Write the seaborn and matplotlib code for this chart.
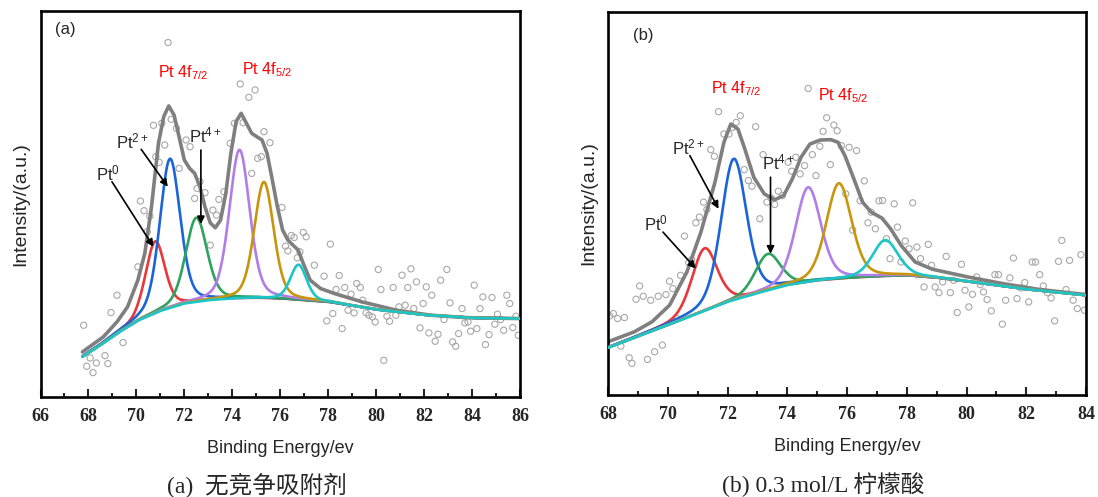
import numpy as np
import matplotlib
matplotlib.use("Agg")
import matplotlib.pyplot as plt
import seaborn as sns

sns.set_style("white")
plt.rcParams['font.family'] = ['Liberation Sans', 'Noto Sans CJK SC', 'DejaVu Sans']
plt.rcParams['mathtext.fontset'] = 'custom'
plt.rcParams['mathtext.rm'] = 'Liberation Sans'
plt.rcParams['mathtext.it'] = 'Liberation Sans:italic'
plt.rcParams['mathtext.bf'] = 'Liberation Sans:bold'

# ---------------- Panel (a) data ----------------
a_scatter_E = [67.80, 67.93, 68.07, 68.19, 68.33, 68.69, 68.81, 68.94, 69.19, 69.44,
               70.06, 70.17, 70.32, 70.45, 70.56, 70.71, 70.81, 70.95, 71.06, 71.18,
               71.32, 71.45, 71.67, 71.78, 72.07, 72.24, 72.43, 72.53, 72.65, 72.86,
               73.08, 73.19, 73.34, 73.44, 73.65, 73.91, 74.09, 74.33, 74.45, 74.69,
               74.81, 74.95, 75.06, 75.21, 75.32, 75.57, 76.07, 76.22, 76.32, 76.46,
               76.58, 76.71, 76.82, 76.96, 77.08, 77.42, 77.83, 77.94, 78.09, 78.19,
               78.33, 78.46, 78.58, 78.69, 78.83, 78.95, 79.08, 79.19, 79.34, 79.44,
               79.58, 79.70, 79.84, 79.96, 80.09, 80.20, 80.32, 80.45, 80.56, 80.71,
               80.82, 80.95, 81.08, 81.21, 81.32, 81.45, 81.57, 81.68, 81.83, 81.96,
               82.09, 82.20, 82.32, 82.46, 82.58, 82.69, 82.83, 82.95, 83.08, 83.19,
               83.32, 83.44, 83.58, 83.70, 83.83, 83.94, 84.09, 84.20, 84.33, 84.45,
               84.56, 84.71, 84.83, 84.95, 85.06, 85.19, 85.32, 85.45, 85.57, 85.70,
               85.83, 85.93]
a_scatter_I = [21.5, 9.2, 11.7, 7.3, 10.2, 12.4, 10.0, 25.3, 30.5, 16.3,
               39.0, 58.7, 55.8, 49.5, 54.2, 81.4, 72.0, 70.3, 82.0, 75.5,
               106.2, 83.2, 80.5, 68.5, 77.0, 75.0, 59.5, 62.5, 64.5, 61.2,
               45.5, 56.0, 54.5, 59.2, 61.5, 76.0, 82.0, 93.8, 82.2, 89.8,
               67.0, 92.0, 71.5, 72.0, 79.5, 76.2, 56.8, 45.2, 43.8, 48.4,
               47.8, 41.7, 43.5, 49.3, 48.0, 39.5, 36.2, 22.8, 45.8, 25.0,
               32.2, 36.4, 20.5, 32.8, 26.0, 30.8, 25.2, 34.0, 32.8, 29.0,
               25.2, 24.5, 24.0, 22.5, 38.2, 32.2, 11.0, 24.2, 22.7, 32.8,
               24.5, 27.0, 36.5, 27.5, 32.8, 38.4, 26.5, 34.5, 20.7, 28.0,
               33.0, 19.2, 30.5, 16.7, 18.8, 35.0, 23.2, 38.2, 28.2, 16.5,
               15.2, 19.0, 26.5, 22.2, 22.5, 19.7, 33.5, 20.5, 26.5, 30.0,
               15.7, 18.7, 29.8, 21.8, 24.8, 23.2, 20.0, 30.5, 28.0, 20.8,
               24.2, 18.5]

a_envelope_E = [67.75, 68.62, 69.19, 69.63, 70.06, 70.35, 70.63, 70.92, 71.14, 71.35,
                71.57, 71.78, 72.00, 72.22, 72.43, 72.65, 72.86, 73.08, 73.29, 73.51,
                73.73, 73.94, 74.16, 74.37, 74.59, 74.81, 75.02, 75.24, 75.45, 75.67,
                75.88, 76.10, 76.32, 76.53, 76.75, 76.96, 77.25, 77.68, 78.26, 79.41,
                80.85, 82.29, 83.73, 86.0]
a_envelope_I = [13.5, 18.0, 22.5, 27.0, 35.0, 43.0, 57.0, 76.0, 84.0, 87.2,
                84.5, 78.0, 71.0, 68.5, 67.0, 63.0, 57.0, 52.2, 50.7, 53.0,
                61.0, 73.0, 82.5, 85.0, 82.0, 79.0, 78.0, 77.0, 73.0, 65.0,
                57.0, 50.0, 47.0, 45.5, 44.0, 40.0, 35.0, 32.5, 31.0, 28.5,
                26.0, 24.5, 23.8, 23.5]

a_bg_E = [67.75, 68.5, 69.3, 70.1, 71.0, 72.0, 73.0, 74.0, 75.0, 76.0, 77.0, 78.0, 80.0, 82.0, 84.0, 86.0]
a_bg_I = [12.0, 15.5, 19.5, 23.0, 25.8, 28.0, 29.0, 29.5, 29.7, 29.5, 29.0, 28.5, 26.2, 24.6, 23.7, 23.5]

a_peak_center = [70.78, 71.40, 72.50, 74.30, 75.32, 76.76]
a_peak_height = [21.5, 44.7, 25.2, 44.5, 34.8, 10.5]
a_peak_fwhm = [0.95, 1.0, 1.05, 1.0, 0.95, 0.8]

# ---------------- Panel (b) data ----------------
b_scatter_E = [68.06, 68.18, 68.32, 68.43, 68.55, 68.71, 68.80, 68.94, 69.06, 69.18,
               69.32, 69.43, 69.56, 69.68, 69.82, 69.94, 70.06, 70.17, 70.31, 70.43,
               70.56, 70.70, 70.80, 70.94, 71.06, 71.20, 71.31, 71.44, 71.56, 71.70,
               71.88, 72.05, 72.17, 72.29, 72.43, 72.56, 72.70, 72.82, 72.94, 73.08,
               73.19, 73.32, 73.46, 73.58, 73.70, 73.84, 74.03, 74.15, 74.29, 74.43,
               74.58, 74.70, 74.84, 74.96, 75.09, 75.20, 75.32, 75.44, 75.56, 75.67,
               75.81, 75.96, 76.07, 76.19, 76.32, 76.44, 76.58, 76.70, 76.81, 76.95,
               77.07, 77.19, 77.32, 77.44, 77.58, 77.69, 77.81, 77.95, 78.08, 78.20,
               78.34, 78.46, 78.58, 78.72, 78.83, 78.95, 79.08, 79.20, 79.32, 79.46,
               79.57, 79.69, 79.83, 79.95, 80.08, 80.20, 80.34, 80.46, 80.57, 80.69,
               80.83, 80.95, 81.07, 81.20, 81.31, 81.45, 81.57, 81.69, 81.83, 81.95,
               82.08, 82.20, 82.31, 82.45, 82.57, 82.71, 82.83, 82.95, 83.08, 83.19,
               83.33, 83.45, 83.57, 83.71, 83.83, 83.95]
b_scatter_I = [23.8, 24.5, 23.0, 14.7, 23.3, 11.2, 9.5, 28.8, 32.8, 29.7,
               10.7, 28.5, 13.0, 29.7, 15.0, 30.2, 34.2, 32.0, 23.0, 36.0,
               47.8, 39.8, 40.7, 51.8, 53.5, 58.0, 55.8, 73.8, 71.8, 85.2,
               78.5, 78.5, 80.5, 82.0, 84.0, 67.8, 64.5, 62.8, 80.7, 53.0,
               72.3, 58.0, 59.2, 57.3, 61.3, 60.0, 70.0, 67.3, 71.5, 66.5,
               69.0, 92.2, 72.3, 66.0, 74.8, 79.3, 83.4, 69.3, 81.2, 79.5,
               75.0, 60.5, 74.5, 49.6, 73.5, 58.4, 64.4, 51.8, 55.0, 50.0,
               58.4, 58.5, 47.0, 41.0, 57.5, 50.5, 40.0, 46.3, 44.0, 57.8,
               44.5, 41.0, 32.5, 45.3, 39.0, 32.5, 30.8, 34.0, 41.7, 30.8,
               34.5, 24.8, 39.3, 31.5, 26.5, 30.3, 35.5, 33.2, 31.0, 28.7,
               25.3, 36.2, 36.2, 21.3, 28.5, 35.2, 41.2, 29.0, 32.2, 33.8,
               28.0, 40.0, 40.0, 36.2, 32.8, 30.8, 29.2, 22.3, 40.2, 46.5,
               31.7, 40.5, 28.5, 26.0, 42.2, 25.5]

b_envelope_E = [68.0, 68.88, 69.47, 70.06, 70.64, 71.11, 71.58, 71.88, 72.11, 72.35,
                72.58, 72.88, 73.23, 73.58, 73.88, 74.17, 74.46, 74.76, 75.11, 75.46,
                75.70, 75.93, 76.23, 76.52, 76.81, 77.17, 77.46, 77.81, 78.28, 78.87,
                80.05, 81.22, 82.40, 84.0]
b_envelope_I = [16.0, 19.0, 22.0, 27.0, 37.0, 49.0, 64.0, 76.0, 81.5, 80.0,
                74.0, 65.5, 60.5, 58.7, 60.0, 65.0, 71.5, 75.5, 76.7, 76.8,
                76.0, 72.0, 65.0, 58.0, 55.0, 53.2, 50.0, 45.0, 40.0, 37.8,
                35.5, 33.5, 31.8, 30.2]

b_bg_E = [68.0, 69.0, 70.0, 71.0, 72.0, 73.0, 74.0, 75.0, 76.0, 77.0, 78.0, 79.0, 80.0, 82.0, 84.0]
b_bg_I = [14.2, 17.6, 21.0, 24.5, 28.0, 30.6, 33.0, 34.4, 35.2, 35.7, 36.0, 35.3, 34.2, 31.8, 30.0]

b_peak_center = [71.23, 72.21, 73.35, 74.70, 75.73, 77.28]
b_peak_height = [18.8, 42.5, 11.0, 28.5, 28.7, 10.8]
b_peak_fwhm = [1.0, 1.0, 1.0, 1.0, 1.0, 1.0]

comp_colors = ['#e8383a', '#1c64d8', '#2ea25e', '#b07ee6', '#c8960c', '#1cc6c8']
envelope_color = '#7f7f7f'
ETA = 0.3


def pvoigt(E, c, h, w):
    g = np.exp(-4 * np.log(2) * (E - c) ** 2 / w ** 2)
    l = 1.0 / (1 + 4 * (E - c) ** 2 / w ** 2)
    return h * (ETA * l + (1 - ETA) * g)


fig = plt.figure(figsize=(10.98, 4.97), dpi=100)
ax_a = fig.add_axes([40.5 / 1098, 1 - 397 / 497, (520 - 40.5) / 1098, (397 - 10.5) / 497])
ax_b = fig.add_axes([608 / 1098, 1 - 395 / 497, (1086 - 608) / 1098, (395 - 12) / 497])


def draw_panel(ax, sE, sI, envE, envI, bgE, bgI, cen, hgt, fw, xlim, ylim):
    sns.scatterplot(x=sE, y=sI, ax=ax, marker='o', s=20, facecolor='none',
                    edgecolor='#a8a8a8', linewidth=0.8, zorder=1, legend=False)
    E = np.linspace(bgE[0], bgE[-1], 800)
    bg = np.interp(E, bgE, bgI)
    sns.lineplot(x=envE, y=envI, ax=ax, color=envelope_color, linewidth=2.6,
                 estimator=None, sort=False, zorder=2)
    for c, h, w, col in zip(cen, hgt, fw, comp_colors):
        sns.lineplot(x=E, y=bg + pvoigt(E, c, h, w), ax=ax, color=col,
                     linewidth=1.9, estimator=None, sort=False, zorder=3)
    ax.set_xlim(*xlim)
    ax.set_ylim(*ylim)
    ax.set_xticks(np.arange(xlim[0], xlim[1] + 0.1, 2))
    ax.set_xticks(np.arange(xlim[0] + 1, xlim[1], 2), minor=True)
    ax.set_yticks([])
    ax.tick_params(axis='x', which='major', direction='in', length=6, width=1.5,
                   bottom=True, top=False, pad=8)
    ax.tick_params(axis='x', which='minor', direction='in', length=3, width=1.5,
                   bottom=True, top=False)
    for lab in ax.get_xticklabels():
        lab.set_fontfamily('Liberation Serif')
        lab.set_fontweight('bold')
        lab.set_fontsize(13)
    for sp in ax.spines.values():
        sp.set_linewidth(1.9)
        sp.set_color('black')
    ax.set_xlabel('Binding Energy/ev', fontsize=13, labelpad=11)
    ax.set_ylabel('Intensity/(a.u.)', fontsize=14, labelpad=8)


draw_panel(ax_a, a_scatter_E, a_scatter_I, a_envelope_E, a_envelope_I, a_bg_E, a_bg_I,
           a_peak_center, a_peak_height, a_peak_fwhm, (66, 86), (0, 115.8))
draw_panel(ax_b, b_scatter_E, b_scatter_I, b_envelope_E, b_envelope_I, b_bg_E, b_bg_I,
           b_peak_center, b_peak_height, b_peak_fwhm, (68, 84), (0, 115.2))

arrow_kw = dict(arrowstyle='-|>', color='black', lw=1.2, mutation_scale=11, shrinkA=0, shrinkB=0)

# Panel (a) annotations
ax_a.text(67.05, 110, '(a)', fontsize=12, ha='center', va='center')
ax_a.text(71.93, 97.2, r'Pt 4f$_{\mathregular{7/2}}$', color='red', fontsize=11.5, ha='center', va='center')
ax_a.text(75.45, 98.0, r'Pt 4f$_{\mathregular{5/2}}$', color='red', fontsize=11.5, ha='center', va='center')
ax_a.text(69.84, 76.5, r'Pt$^{\mathregular{2+}}$', fontsize=12, ha='center', va='center')
ax_a.annotate('', xy=(71.31, 63.0), xytext=(70.2, 74.2), arrowprops=arrow_kw)
ax_a.text(72.86, 78.5, r'Pt$^{\mathregular{4+}}$', fontsize=12, ha='center', va='center')
ax_a.annotate('', xy=(72.69, 51.8), xytext=(72.69, 74.0), arrowprops=arrow_kw)
ax_a.text(68.83, 67.0, r'Pt$^{\mathregular{0}}$', fontsize=12, ha='center', va='center')
ax_a.annotate('', xy=(70.71, 45.0), xytext=(68.98, 64.5), arrowprops=arrow_kw)

# Panel (b) annotations
ax_b.text(69.18, 108, '(b)', fontsize=12, ha='center', va='center')
ax_b.text(72.29, 92.0, r'Pt 4f$_{\mathregular{7/2}}$', color='red', fontsize=11.5, ha='center', va='center')
ax_b.text(75.87, 90.0, r'Pt 4f$_{\mathregular{5/2}}$', color='red', fontsize=11.5, ha='center', va='center')
ax_b.text(70.70, 74.5, r'Pt$^{\mathregular{2+}}$', fontsize=12, ha='center', va='center')
ax_b.annotate('', xy=(71.70, 56.0), xytext=(70.74, 72.0), arrowprops=arrow_kw)
ax_b.text(73.70, 70.0, r'Pt$^{\mathregular{4+}}$', fontsize=12, ha='center', va='center')
ax_b.annotate('', xy=(73.44, 42.5), xytext=(73.44, 65.5), arrowprops=arrow_kw)
ax_b.text(69.59, 51.5, r'Pt$^{\mathregular{0}}$', fontsize=12, ha='center', va='center')
ax_b.annotate('', xy=(70.94, 38.0), xytext=(69.84, 49.0), arrowprops=arrow_kw)

caption_family = ['Liberation Serif', 'Noto Sans CJK SC']
fig.text(257 / 1098, 1 - 485 / 497, '(a)  无竞争吸附剂', family=caption_family,
         fontsize=17, ha='center', va='center')
fig.text(823 / 1098, 1 - 485 / 497, '(b) 0.3 mol/L 柠檬酸', family=caption_family,
         fontsize=17, ha='center', va='center')

fig.savefig('out.png', dpi=100)
